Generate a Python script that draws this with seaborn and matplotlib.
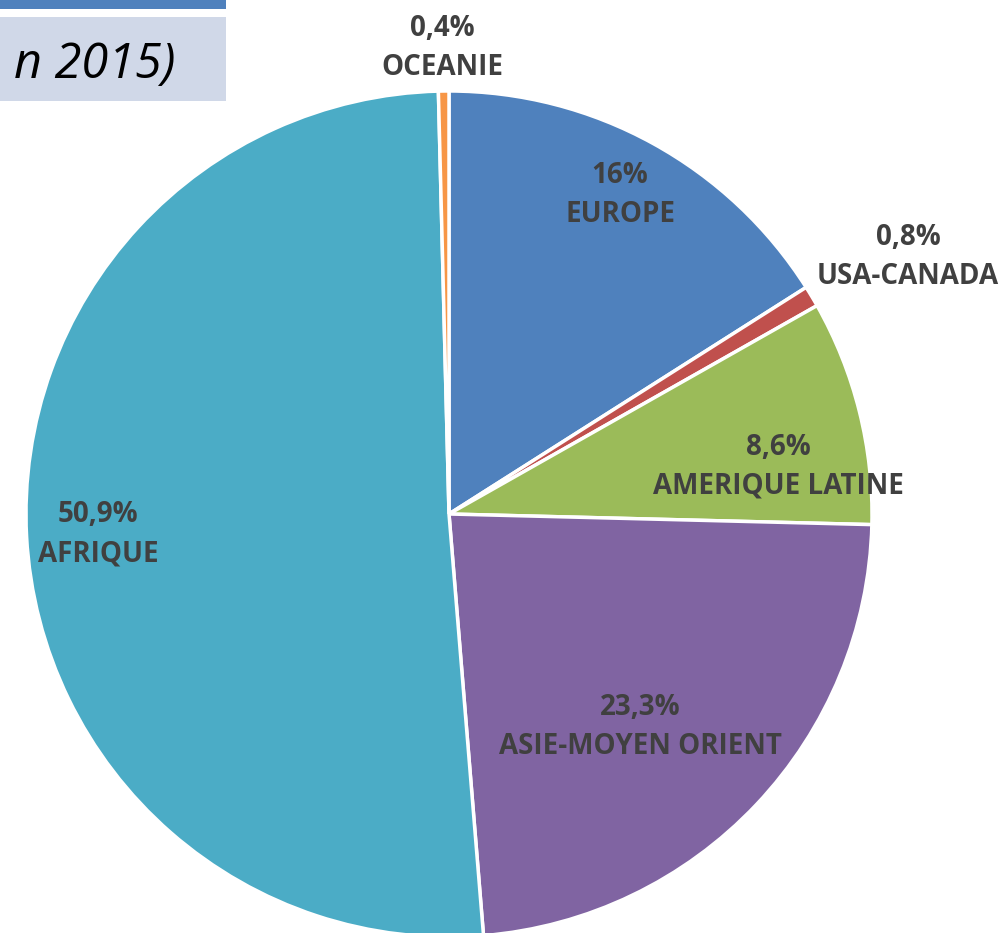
import matplotlib
matplotlib.use("Agg")
import matplotlib.pyplot as plt
from matplotlib.patches import Rectangle
import seaborn as sns

sns.set_theme(style="white")
plt.rcParams["font.family"] = ["Open Sans", "DejaVu Sans"]

# data (clockwise from 12 o'clock)
regions = ["EUROPE", "USA-CANADA", "AMERIQUE LATINE", "ASIE-MOYEN ORIENT", "AFRIQUE", "OCEANIE"]
shares = [16.0, 0.8, 8.6, 23.3, 50.9, 0.4]
pct_labels = ["16%", "0,8%", "8,6%", "23,3%", "50,9%", "0,4%"]
colors = ["#4F81BD", "#C0504D", "#9BBB59", "#8064A2", "#4BACC6", "#F79646"]

W, H = 1001, 933
fig = plt.figure(figsize=(W / 100, H / 100), dpi=100)
ax = fig.add_axes([0, 0, 1, 1])

cx, cy, r = 449, H - 514, 423
ax.pie(shares, colors=colors, startangle=90, counterclock=False,
       center=(cx, cy), radius=r, frame=True,
       wedgeprops=dict(edgecolor="white", linewidth=2.5))
ax.set_xlim(0, W)
ax.set_ylim(0, H)
ax.axis("off")

# label anchor in pixels: x centre, baseline of the percent line
label_pos = [(620, 183), (908, 245), (778, 455), (640, 715), (98, 522), (442, 36)]
for name, pct, (lx, ly) in zip(regions, pct_labels, label_pos):
    ax.text(lx, H - ly, pct, ha="center", va="baseline", fontsize=20,
            fontweight="bold", color="#404040")
    ax.text(lx, H - ly - 39, name, ha="center", va="baseline", fontsize=20,
            fontweight="bold", color="#404040")

# cropped title box at top left
ax.add_patch(Rectangle((0, H - 9), 226, 9, color="#4F81BD", lw=0, clip_on=False))
ax.add_patch(Rectangle((0, H - 101), 226, 84, color="#D0D8E8", lw=0, clip_on=False))
ax.text(175, H - 78, "n 2015)", ha="right", va="baseline", fontsize=35,
        style="italic", color="black")

fig.savefig("out.png", dpi=100)
